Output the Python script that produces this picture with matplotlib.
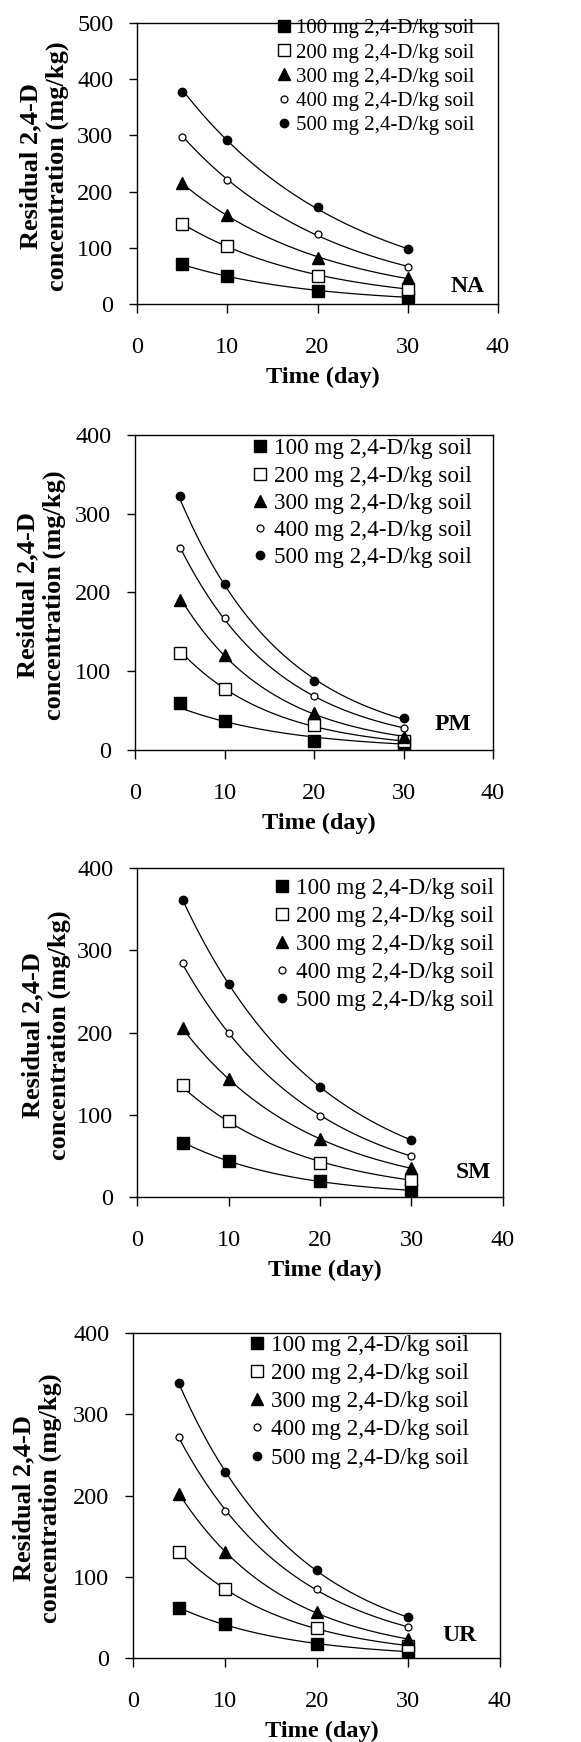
import numpy as np
import matplotlib
matplotlib.use("Agg")
import matplotlib.pyplot as plt

plt.rcParams["font.family"] = ["Liberation Serif", "DejaVu Serif"]

# ── Data ───────────────────────────────────────────────────────────────────────
days = [5, 10, 20, 30]
doses = ["100", "200", "300", "400", "500"]
labels = [f"{d} mg 2,4-D/kg soil" for d in doses]
soils = ["NA", "PM", "SM", "UR"]
y_max = [500, 400, 400, 400]

# residual concentration (mg/kg), rows = dose 100..500
na_vals = [[71, 49, 24, 12],
           [143, 104, 50, 27],
           [216, 159, 81, 46],
           [297, 221, 125, 66],
           [378, 291, 173, 97]]
pm_vals = [[60, 37, 12, 9],
           [123, 78, 32, 11],
           [190, 121, 47, 17],
           [256, 167, 69, 28],
           [323, 211, 87, 40]]
sm_vals = [[66, 44, 19, 8],
           [136, 92, 41, 21],
           [206, 143, 70, 35],
           [284, 200, 98, 50],
           [361, 259, 134, 69]]
ur_vals = [[62, 42, 17, 8],
           [130, 85, 37, 15],
           [202, 130, 57, 23],
           [272, 181, 85, 38],
           [339, 229, 108, 50]]
panel_vals = [na_vals, pm_vals, sm_vals, ur_vals]

# ── Layout / styling ───────────────────────────────────────────────────────────
W, H = 581, 1742
# axes box in pixels: left, right, top, bottom
boxes = [(137, 498, 23, 304),
         (135, 493, 435, 750),
         (137, 503, 868, 1197),
         (133, 500, 1333, 1658)]
legend_anchor = [(0.935, 1.015), (0.94, 0.99), (0.975, 0.97), (0.915, 0.995)]
legend_font = [15, 16.7, 16.7, 16.7]
legend_spacing = [0.22, 0.26, 0.29, 0.3]
soil_pos = [(468, 287), (453, 725), (473, 1173), (460, 1635)]
ylab_x = [44, 41, 46, 37]

markers = [
    dict(marker="s", ms=8, mfc="black", mec="black"),
    dict(marker="s", ms=8, mfc="white", mec="black", mew=1.0),
    dict(marker="^", ms=8, mfc="black", mec="black"),
    dict(marker="o", ms=5, mfc="white", mec="black", mew=0.9),
    dict(marker="o", ms=6, mfc="black", mec="black"),
]

fig = plt.figure(figsize=(W / 100, H / 100), dpi=100)
t_fit = np.linspace(days[0], days[-1], 200)

for i, vals in enumerate(panel_vals):
    l, r, t, b = boxes[i]
    ax = fig.add_axes([l / W, 1 - b / H, (r - l) / W, (b - t) / H])

    for j, series in enumerate(vals):
        # exponential trendline (log-linear fit, as in Excel)
        k, c = np.polyfit(days, np.log(series), 1)
        ax.plot(t_fit, np.exp(c + k * t_fit), color="black", lw=0.9, zorder=2)
        ax.plot(days, series, ls="none", label=labels[j], zorder=3, **markers[j])

    ax.set_xlim(0, 40)
    ax.set_ylim(0, y_max[i])
    ax.set_xticks(np.arange(0, 41, 10))
    ax.set_yticks(np.arange(0, y_max[i] + 1, 100))
    ax.tick_params(axis="x", direction="out", length=6.5, width=1, pad=17, labelsize=17.5)
    ax.tick_params(axis="y", direction="out", length=6, width=1, pad=11, labelsize=17.5)
    for sp in ax.spines.values():
        sp.set_linewidth(1.0)

    ax.legend(loc="upper right", bbox_to_anchor=legend_anchor[i], frameon=False,
              fontsize=legend_font[i], borderpad=0, handletextpad=0.15,
              handlelength=0.9, labelspacing=legend_spacing[i], borderaxespad=0)

    fig.text(soil_pos[i][0] / W, 1 - soil_pos[i][1] / H, soils[i],
             fontsize=17, fontweight="bold", ha="center", va="center")

    fig.text(ylab_x[i] / W, 1 - ((t + b) / 2 + 3) / H,
             "Residual 2,4-D\nconcentration (mg/kg)", rotation=90,
             fontsize=19, fontweight="bold", ha="center", va="center",
             linespacing=1.2)
    fig.text(((l + r) / 2 + 5) / W, 1 - (b + 73) / H, "Time (day)",
             fontsize=17.5, fontweight="bold", ha="center", va="center")

fig.savefig("out.png", dpi=100)
